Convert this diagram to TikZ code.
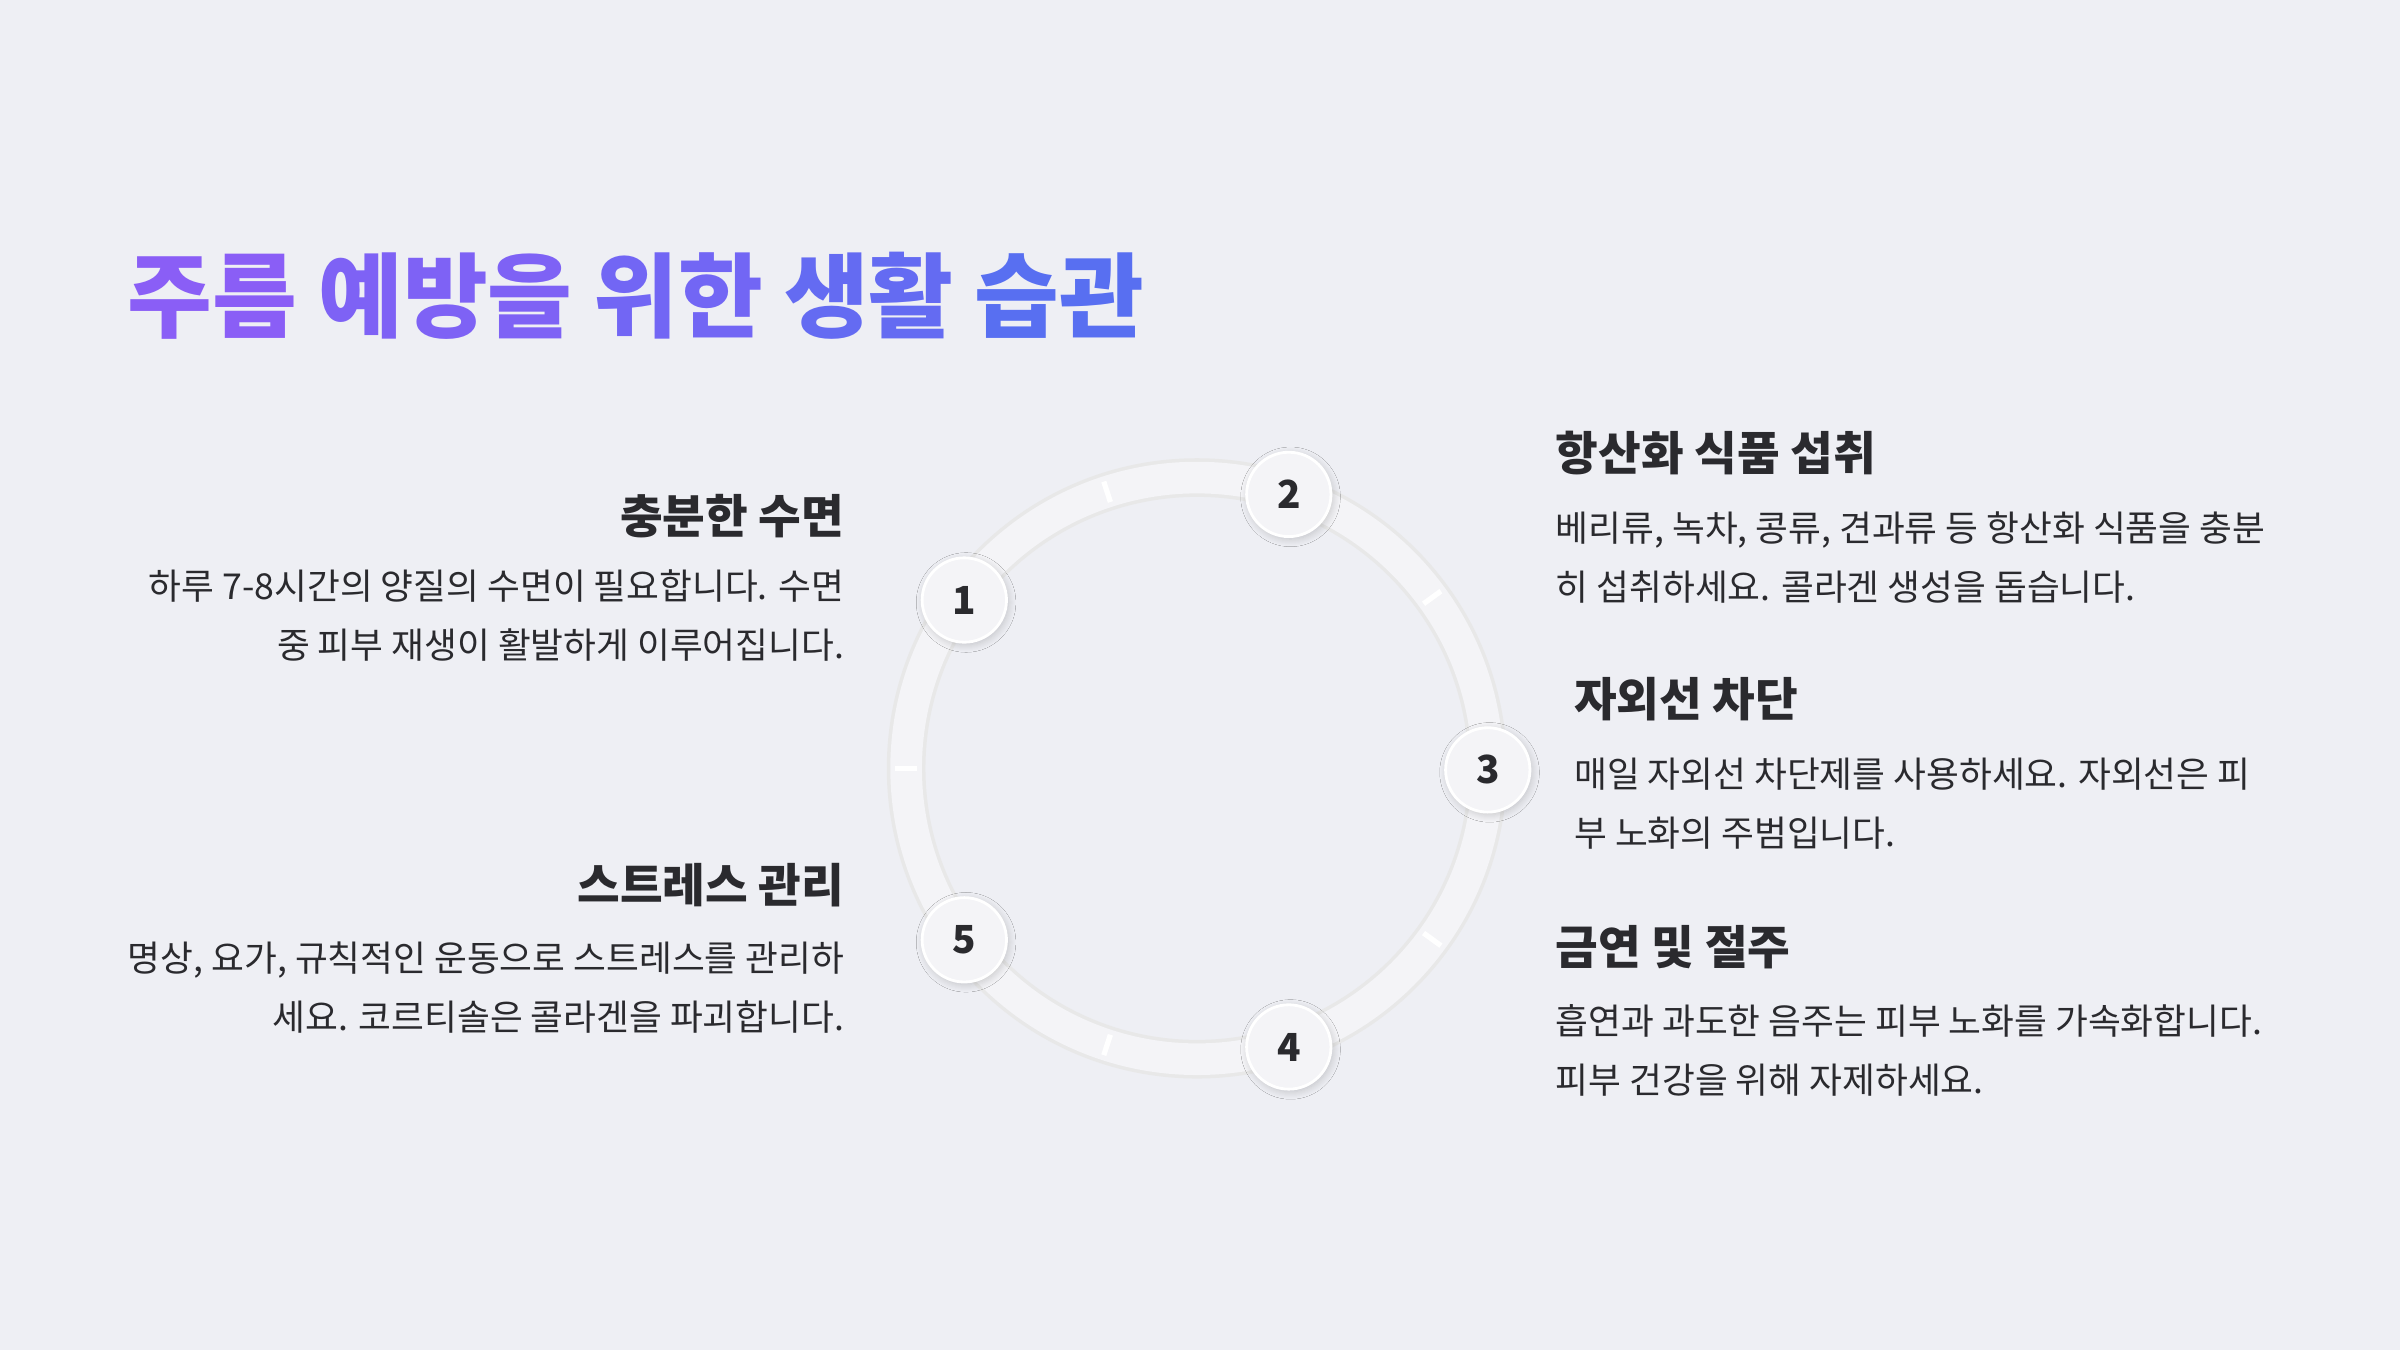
\documentclass[tikz,border=0pt]{standalone}
\usepackage{fontspec}
\setmainfont{Noto Sans CJK KR}
\usetikzlibrary{shadows.blur,calc}
\definecolor{bg}{HTML}{EEEFF4}
\definecolor{txt}{HTML}{2A2A2E}
\definecolor{ringc}{HTML}{F4F4F7}
\definecolor{ca}{HTML}{8A5EF6}
\definecolor{cb}{HTML}{4F72F0}
\tikzset{
  head/.style={font=\fontsize{13.2}{15}\selectfont\bfseries, text=txt, inner sep=0pt},
  body/.style={font=\fontsize{10.15}{16.6}\selectfont, text=txt, inner sep=0pt},
  num/.style={circle, minimum size=24pt, fill=ringc, draw=white, line width=0.8pt, blur shadow={shadow blur steps=8, shadow xshift=0.5pt, shadow yshift=-0.7pt, shadow opacity=20}, font=\fontsize{11}{13}\selectfont\bfseries, text=txt, inner sep=0pt}
}
\begin{document}
\begin{tikzpicture}[x=0.015306cm, y=-0.015306cm]
\fill[bg] (0,0) rectangle (1568,882);
\useasboundingbox (0,0) rectangle (1568,882);
% title
\node[anchor=west, inner sep=0pt, font=\fontsize{26.2}{30}\selectfont\bfseries] (title) at (83,193)
 {\textcolor{ca}{주름} \textcolor{ca!80!cb}{예방을} \textcolor{ca!60!cb}{위한} \textcolor{ca!35!cb}{생활} \textcolor{ca!15!cb}{습관}};
% ring
\coordinate (c) at (782,502);
\draw[line width=11pt, black!9] (c) circle (190);
\draw[line width=9pt, ringc] (c) circle (190);
\foreach \a in {-108,-36,36,108,180}{
  \draw[line width=1.5pt, white] ($(c)+(\a:183)$) -- ($(c)+(\a:197)$);
}
\node[num] (n1) at (630,392) {1};
\node[num] (n2) at (842,323) {2};
\node[num] (n3) at (972,503) {3};
\node[num] (n4) at (842,684) {4};
\node[num] (n5) at (630,614) {5};
% left texts
\node[head, anchor=east] (h1) at (552,337) {충분한 수면};
\node[body, anchor=north east, align=right] (b1) at (552,372) {하루 7-8시간의 양질의 수면이 필요합니다. 수면\\중 피부 재생이 활발하게 이루어집니다.};
\node[head, anchor=east] (h5) at (552,578) {스트레스 관리};
\node[body, anchor=north east, align=right] (b5) at (552,615) {명상, 요가, 규칙적인 운동으로 스트레스를 관리하\\세요. 코르티솔은 콜라겐을 파괴합니다.};
% right texts
\node[head, anchor=west] (h2) at (1016,296) {항산화 식품 섭취};
\node[body, anchor=north west, align=left] (b2) at (1016,334) {베리류, 녹차, 콩류, 견과류 등 항산화 식품을 충분\\히 섭취하세요. 콜라겐 생성을 돕습니다.};
\node[head, anchor=west] (h3) at (1028,457) {자외선 차단};
\node[body, anchor=north west, align=left] (b3) at (1028,495) {매일 자외선 차단제를 사용하세요. 자외선은 피\\부 노화의 주범입니다.};
\node[head, anchor=west] (h4) at (1016,619) {금연 및 절주};
\node[body, anchor=north west, align=left] (b4) at (1016,656) {흡연과 과도한 음주는 피부 노화를 가속화합니다.\\피부 건강을 위해 자제하세요.};
\end{tikzpicture}
\end{document}
